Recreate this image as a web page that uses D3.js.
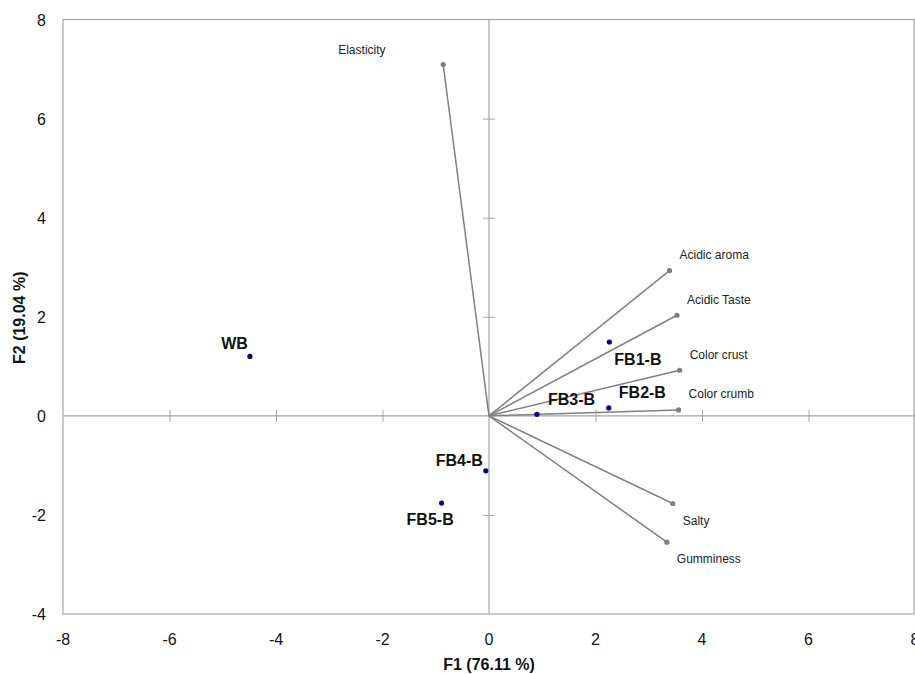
<!DOCTYPE html>
<html lang="en">
<head>
<meta charset="UTF-8">
<title>PCA biplot F1 / F2</title>
<script src="https://d3js.org/d3.v7.min.js"></script>
<style>
  body { margin: 0; background: #fff; }
  svg text { font-family: "Liberation Sans", Arial, sans-serif; }
  .tick-label { font-size: 16px; fill: #111; }
  .axis-title { font-size: 16px; font-weight: bold; fill: #111; }
  .var-label { font-size: 12px; fill: #222; }
  .obs-label { font-size: 16px; font-weight: bold; fill: #111; }
</style>
</head>
<body>
<svg width="915" height="674"></svg>
<script>
// variables (loadings), drawn as vectors from the origin
const varNames = ["Elasticity", "Acidic aroma", "Acidic Taste", "Color crust", "Color crumb", "Salty", "Gumminess"];
const varF1 = [-0.86, 3.39, 3.53, 3.58, 3.56, 3.45, 3.34];
const varF2 = [7.09, 2.93, 2.03, 0.92, 0.12, -1.77, -2.55];

// observations (bread samples)
const obsNames = ["WB", "FB1-B", "FB2-B", "FB3-B", "FB4-B", "FB5-B"];
const obsF1 = [-4.49, 2.26, 2.25, 0.90, -0.06, -0.89];
const obsF2 = [1.20, 1.49, 0.16, 0.03, -1.11, -1.76];

const xTicks = [-8, -6, -4, -2, 0, 2, 4, 6, 8];
const yTicks = [-4, -2, 0, 2, 4, 6, 8];

// label placement (pixels relative to the point)
const varLabelPos = {
  "Elasticity": [-105, -11, "start"],
  "Acidic aroma": [10, -12, "start"],
  "Acidic Taste": [10, -11, "start"],
  "Color crust": [10, -11, "start"],
  "Color crumb": [10, -12, "start"],
  "Salty": [10, 21, "start"],
  "Gumminess": [10, 21, "start"]
};
const obsLabelPos = {
  "WB": [-2, -7, "end"],
  "FB1-B": [5, 23, "start"],
  "FB2-B": [10, -10, "start"],
  "FB3-B": [11, -9, "start"],
  "FB4-B": [-3, -5, "end"],
  "FB5-B": [-35, 22, "start"]
};

const svg = d3.select("svg");
const plotLeft = 63, plotRight = 915, plotTop = 19.5, plotBottom = 614;

const x = d3.scaleLinear().domain([-8, 8]).range([plotLeft, plotRight]);
const y = d3.scaleLinear().domain([-4, 8]).range([plotBottom, plotTop]);

const axisColor = "#a6a6a6";

// frame
svg.append("rect")
  .attr("x", plotLeft).attr("y", plotTop)
  .attr("width", plotRight - plotLeft - 1).attr("height", plotBottom - plotTop)
  .attr("fill", "none").attr("stroke", axisColor).attr("stroke-width", 1.2);

// zero axes with crossing ticks
const xAxis = d3.axisBottom(x).tickValues(xTicks.filter(d => d > -8 && d < 8 && d !== 0))
  .tickSize(12).tickFormat("");
svg.append("g")
  .attr("transform", `translate(0,${y(0) - 6})`)
  .call(xAxis)
  .call(g => g.select(".domain").remove())
  .call(g => g.selectAll("line").attr("stroke", axisColor));
svg.append("line")
  .attr("x1", plotLeft).attr("x2", plotRight).attr("y1", y(0)).attr("y2", y(0))
  .attr("stroke", axisColor).attr("stroke-width", 1.2);

const yAxis = d3.axisLeft(y).tickValues(yTicks.filter(d => d > -4 && d < 8 && d !== 0))
  .tickSize(12).tickFormat("");
svg.append("g")
  .attr("transform", `translate(${x(0) + 6},0)`)
  .call(yAxis)
  .call(g => g.select(".domain").remove())
  .call(g => g.selectAll("line").attr("stroke", axisColor));
svg.append("line")
  .attr("x1", x(0)).attr("x2", x(0)).attr("y1", plotTop).attr("y2", plotBottom)
  .attr("stroke", axisColor).attr("stroke-width", 1.2);

// tick labels
svg.selectAll(".xt").data(xTicks).enter().append("text")
  .attr("class", "tick-label")
  .attr("x", d => x(d)).attr("y", 645)
  .attr("text-anchor", "middle")
  .text(d => d);
svg.selectAll(".yt").data(yTicks).enter().append("text")
  .attr("class", "tick-label")
  .attr("x", 46).attr("y", d => y(d) + 6)
  .attr("text-anchor", "end")
  .text(d => d);

// axis titles
svg.append("text").attr("class", "axis-title")
  .attr("x", x(0)).attr("y", 670).attr("text-anchor", "middle")
  .text("F1 (76.11 %)");
svg.append("text").attr("class", "axis-title")
  .attr("transform", `translate(25,${y(2) + 1}) rotate(-90)`)
  .attr("text-anchor", "middle")
  .text("F2 (19.04 %)");

// variable vectors
const vars = varNames.map((n, i) => ({ name: n, f1: varF1[i], f2: varF2[i] }));
svg.selectAll(".vec").data(vars).enter().append("line")
  .attr("x1", x(0)).attr("y1", y(0))
  .attr("x2", d => x(d.f1)).attr("y2", d => y(d.f2))
  .attr("stroke", "#808080").attr("stroke-width", 1.5);
svg.selectAll(".vpt").data(vars).enter().append("circle")
  .attr("cx", d => x(d.f1)).attr("cy", d => y(d.f2)).attr("r", 2.6)
  .attr("fill", "#7f7f7f");
svg.selectAll(".vlab").data(vars).enter().append("text")
  .attr("class", "var-label")
  .attr("x", d => x(d.f1) + varLabelPos[d.name][0])
  .attr("y", d => y(d.f2) + varLabelPos[d.name][1])
  .attr("text-anchor", d => varLabelPos[d.name][2])
  .text(d => d.name);

// observations
const obs = obsNames.map((n, i) => ({ name: n, f1: obsF1[i], f2: obsF2[i] }));
svg.selectAll(".opt").data(obs).enter().append("circle")
  .attr("cx", d => x(d.f1)).attr("cy", d => y(d.f2)).attr("r", 2.6)
  .attr("fill", "#000080");
svg.selectAll(".olab").data(obs).enter().append("text")
  .attr("class", "obs-label")
  .attr("x", d => x(d.f1) + obsLabelPos[d.name][0])
  .attr("y", d => y(d.f2) + obsLabelPos[d.name][1])
  .attr("text-anchor", d => obsLabelPos[d.name][2])
  .text(d => d.name);
</script>
</body>
</html>
